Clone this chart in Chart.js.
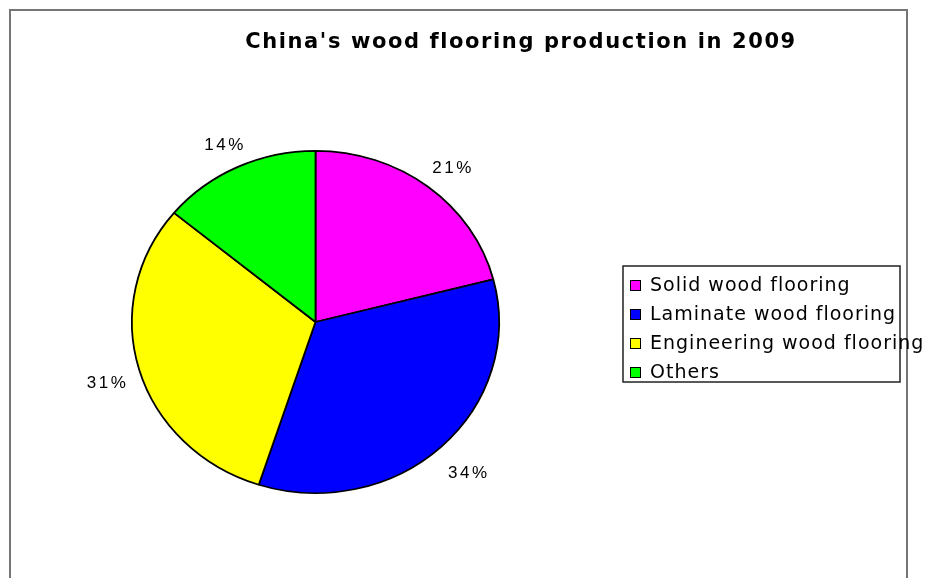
<!DOCTYPE html>
<html>
<head>
<meta charset="utf-8">
<title>China's wood flooring production in 2009</title>
<script src="https://cdn.jsdelivr.net/npm/chart.js@4"></script>
<style>
  html, body { margin: 0; padding: 0; background: #fff; }
  #wrap { position: relative; width: 928px; height: 578px; }
</style>
</head>
<body>
<div id="wrap"><canvas id="pie" width="928" height="578"></canvas></div>
<script>
const titleText = "China's wood flooring production in 2009";
const categories = ["Solid wood flooring", "Laminate wood flooring", "Engineering wood flooring", "Others"];
const shares = [21, 34, 31, 14];
const sliceColors = ["#ff00ff", "#0000ff", "#ffff00", "#00ff00"];

// the pie is a little flatter than it is wide
const squash = 172 / 184.5;

const frameAndText = {
  id: "frameAndText",
  beforeDraw(chart) {
    const ctx = chart.ctx;
    ctx.save();
    ctx.fillStyle = "#fff";
    ctx.fillRect(0, 0, chart.width, chart.height);
    ctx.strokeStyle = "#767676";
    ctx.lineWidth = 2;
    ctx.strokeRect(10, 10, 897, 620);
    ctx.restore();
  },
  beforeDatasetsDraw(chart) {
    const arc = chart.getDatasetMeta(0).data[0];
    const ctx = chart.ctx;
    ctx.save();
    ctx.translate(arc.x, arc.y);
    ctx.scale(1, squash);
    ctx.translate(-arc.x, -arc.y);
  },
  afterDatasetsDraw(chart) {
    chart.ctx.restore();
  },
  afterDraw(chart) {
    const ctx = chart.ctx;
    const meta = chart.getDatasetMeta(0);
    const first = meta.data[0];
    const cx = first.x, cy = first.y;
    const rx = first.outerRadius, ry = rx * squash;
    const total = shares.reduce((a, b) => a + b, 0);

    ctx.save();
    // title
    ctx.fillStyle = "#000";
    ctx.font = "bold 21px 'DejaVu Sans'";
    ctx.letterSpacing = "1.6px";
    ctx.textAlign = "center";
    ctx.textBaseline = "middle";
    ctx.fillText(titleText, 521, 43);

    // percentage labels outside each slice
    ctx.font = "17px 'Liberation Sans'";
    ctx.letterSpacing = "2.5px";
    meta.data.forEach((el, i) => {
      const mid = (el.startAngle + el.endAngle) / 2;
      const x = cx + Math.cos(mid) * (rx + 36) + 3;
      const y = cy + Math.sin(mid) * (ry + 30) + 5;
      ctx.fillText(Math.round(shares[i] / total * 100) + "%", x, y);
    });

    // legend
    const lx = 623, ly = 266, lw = 277, lh = 116;
    ctx.strokeStyle = "#222";
    ctx.lineWidth = 1.5;
    ctx.strokeRect(lx, ly, lw, lh);
    ctx.font = "19px 'DejaVu Sans'";
    ctx.letterSpacing = "1px";
    ctx.textAlign = "left";
    categories.forEach((name, i) => {
      const rowY = ly + 19 + i * 29;
      ctx.fillStyle = sliceColors[i];
      ctx.fillRect(lx + 7, rowY - 5, 10, 10);
      ctx.strokeStyle = "#000";
      ctx.lineWidth = 1;
      ctx.strokeRect(lx + 7.5, rowY - 4.5, 10, 10);
      ctx.fillStyle = "#000";
      ctx.fillText(name, lx + 27, rowY + 1);
    });
    ctx.restore();
  }
};

new Chart(document.getElementById("pie"), {
  type: "pie",
  data: {
    labels: categories,
    datasets: [{
      data: shares,
      backgroundColor: sliceColors,
      borderColor: "#000",
      borderWidth: 1.8
    }]
  },
  options: {
    responsive: false,
    animation: false,
    events: [],
    layout: {
      padding: { left: 131, right: 428, top: 137.5, bottom: 71.5 }
    },
    plugins: {
      legend: { display: false },
      tooltip: { enabled: false }
    }
  },
  plugins: [frameAndText]
});
</script>
</body>
</html>
